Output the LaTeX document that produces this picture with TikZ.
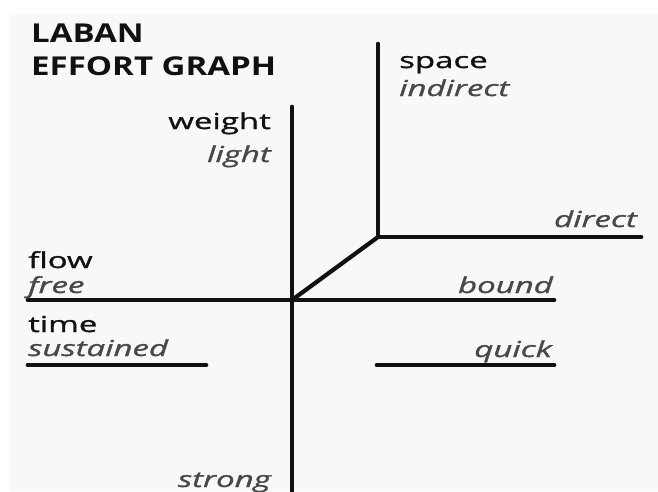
\documentclass[tikz,border=0pt]{standalone}
\usepackage{fontspec}
\setmainfont{Open Sans}[FakeStretch=1.5,FakeBold=1.2]
\newfontfamily\headfont{Open Sans}[FakeStretch=1.27]
\usetikzlibrary{positioning}
\definecolor{paper}{RGB}{248,248,248}
\definecolor{ink}{RGB}{17,17,17}
\definecolor{softink}{RGB}{72,72,72}

\begin{document}
\begin{tikzpicture}[
  x=1pt, y=-1pt,
  inner sep=0pt,
  axis/.style={
    draw=ink,
    line width=4.7pt,
    line cap=round
  },
  factor/.style={
    text=ink,
    font=\fontsize{22}{24}\selectfont
  },
  pole/.style={
    text=softink,
    font=\fontsize{22}{24}\selectfont\itshape
  },
  heading/.style={
    text=ink,
    font=\headfont\fontsize{26}{28}\selectfont\bfseries
  }
]
\useasboundingbox (0,0) rectangle (658,491);
\fill[white] (0,0) rectangle (658,491);
\fill[paper] (10,14) rectangle (658,491);

% axes
\coordinate (origin) at (292,300);
\coordinate (corner) at (378,237);
\coordinate (weighttop) at (292,107);
\coordinate (weightbot) at (292,495);
\coordinate (spacetop) at (378,44);
\coordinate (directend) at (641,237);
\coordinate (flowleft) at (28,300);
\coordinate (flowright) at (554,300);
\coordinate (sustleft) at (28,365);
\coordinate (sustright) at (206,365);
\coordinate (quickleft) at (377,365);
\coordinate (quickright) at (554,365);

\draw[axis] (weighttop) -- (weightbot);
\draw[axis] (spacetop) -- (corner) -- (directend);
\draw[axis, line width=4.2pt] (corner) -- (origin);
\draw[axis] (flowleft) -- (flowright);
\draw[axis] (sustleft) -- (sustright);
\draw[axis] (quickleft) -- (quickright);

% title
\node[heading, anchor=base west] (laban) at (31,42) {LABAN};
\node[heading, anchor=base west] (effort) at (31,75) {EFFORT GRAPH};

% labels
\node[factor, anchor=base east] (weight) at (271,129) {weight};
\node[pole, anchor=base east] (light) at ([yshift=-33pt]weight.base east) {light};
\node[factor, anchor=base west] (space) at (399,68) {space};
\node[pole, anchor=base west] (indirect) at ([yshift=-28pt]space.base west) {indirect};
\node[pole, anchor=base east] (direct) at (637,227) {direct};
\node[factor, anchor=base west] (flow) at (28,268) {flow};
\node[pole, anchor=base west] (free) at ([yshift=-25pt]flow.base west) {free};
\node[pole, anchor=base east] (bound) at (553,293) {bound};
\node[factor, anchor=base west] (time) at (28,332) {time};
\node[pole, anchor=base west] (sustained) at ([yshift=-24pt]time.base west) {sustained};
\node[pole, anchor=base east] (quick) at (552,357) {quick};
\node[pole, anchor=base east] (strong) at (271,487) {strong};
\end{tikzpicture}
\end{document}
